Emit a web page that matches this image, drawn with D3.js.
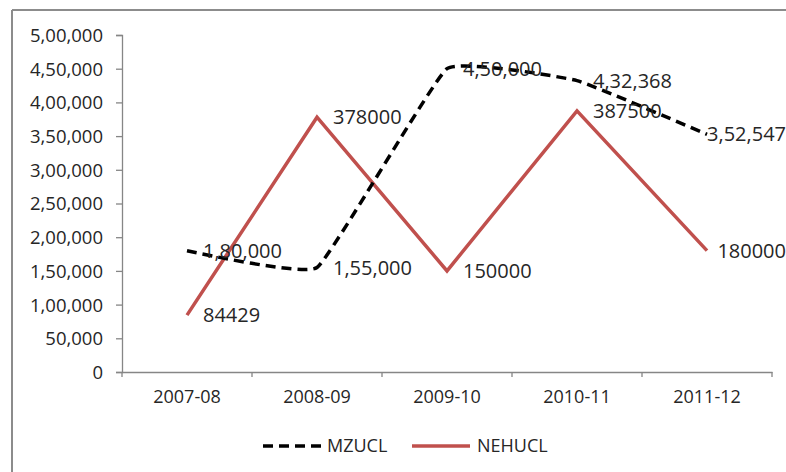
<!DOCTYPE html>
<html><head><meta charset="utf-8">
<script src="https://cdn.jsdelivr.net/npm/d3@7"></script>
<style>
html,body{margin:0;padding:0;background:#fff;}
svg text{font-family:"Open Sans","Liberation Sans",sans-serif;fill:#262626;}
</style></head>
<body><svg id="c" width="786" height="472"></svg>
<script>
const categories = ["2007-08","2008-09","2009-10","2010-11","2011-12"];
const mzucl = [180000,155000,450000,432368,352547];
const nehucl = [84429,378000,150000,387500,180000];
const yTicks = [0,50000,100000,150000,200000,250000,300000,350000,400000,450000,500000];
const seriesNames = ["MZUCL","NEHUCL"];

const W=786,H=472;
const svg=d3.select("#c");
const m={l:122,r:14,t:35,b:100};
const x=d3.scaleBand().domain(categories).range([m.l,W-m.r]);
const y=d3.scaleLinear().domain([0,500000]).range([H-m.b,m.t]);
const cx=c=>x(c)+x.bandwidth()/2;

const indian=v=>{ // Indian digit grouping
  const s=String(Math.round(v));
  if(s.length<=3) return s;
  const last=s.slice(-3); let rest=s.slice(0,-3);
  const parts=[]; while(rest.length>2){parts.unshift(rest.slice(-2)); rest=rest.slice(0,-2);}
  if(rest) parts.unshift(rest);
  return parts.join(",")+","+last;
};

// frame
svg.append("line").attr("x1",12).attr("x2",12).attr("y1",10).attr("y2",H).attr("stroke","#8c8c8c").attr("stroke-width",2);
svg.append("line").attr("x1",12).attr("x2",W).attr("y1",10).attr("y2",10).attr("stroke","#8c8c8c").attr("stroke-width",2);

// y axis
const ya=svg.append("g").attr("transform",`translate(${m.l},0)`)
  .call(d3.axisLeft(y).tickValues(yTicks).tickFormat(d=>indian(d)).tickSize(6).tickPadding(13));
ya.select(".domain").attr("stroke","#868686").attr("stroke-width",1.3);
ya.selectAll(".tick line").attr("stroke","#868686").attr("stroke-width",1.3);
ya.selectAll(".tick text").style("font-size","18.5px").attr("fill","#262626").attr("dy","0.35em");

// x axis
const xa=svg.append("g").attr("transform",`translate(0,${y(0)})`)
  .call(d3.axisBottom(x).tickSize(0).tickPadding(18));
xa.select(".domain").attr("stroke","#868686").attr("stroke-width",1.3);
xa.selectAll(".tick text").style("font-size","18px").attr("fill","#262626");
const bounds=categories.map(c=>x(c)).concat([x.range()[1]]);
svg.append("g").selectAll("line").data(bounds).join("line")
  .attr("x1",d=>d).attr("x2",d=>d).attr("y1",y(0)).attr("y2",y(0)+5)
  .attr("stroke","#868686").attr("stroke-width",1.3);

// lines
const redC="#c0504d";
const lineS=d3.line().x((d,i)=>cx(categories[i])).y(d=>y(d));
svg.append("path").datum(nehucl).attr("d",lineS).attr("fill","none")
  .attr("stroke",redC).attr("stroke-width",3.5).attr("stroke-linejoin","miter");
const lineM=d3.line().x((d,i)=>cx(categories[i])).y(d=>y(d)).curve(d3.curveCardinal.tension(0.7));
svg.append("path").datum(mzucl).attr("d",lineM).attr("fill","none")
  .attr("stroke","#000").attr("stroke-width",3.5).attr("stroke-dasharray","10,6");

// data labels
function labels(vals,fmt){
  const g=svg.append("g");
  vals.forEach((v,i)=>{
    const t=g.append("text").attr("x",cx(categories[i])+16).attr("y",y(v)).attr("dy","0.35em")
      .style("font-size","20px").text(fmt(v));
    const bb=t.node().getBBox();
    if(bb.x+bb.width>W) t.attr("x",W-bb.width);
  });
}
labels(mzucl,indian);
labels(nehucl,v=>String(v));

// legend
const lg=svg.append("g");
const ly=446;
lg.append("line").attr("x1",263).attr("x2",322).attr("y1",ly).attr("y2",ly)
  .attr("stroke","#000").attr("stroke-width",3.5).attr("stroke-dasharray","10,6");
lg.append("text").attr("x",327).attr("y",ly).attr("dy","0.35em").style("font-size","18px").text(seriesNames[0]);
lg.append("line").attr("x1",412).attr("x2",470).attr("y1",ly).attr("y2",ly)
  .attr("stroke",redC).attr("stroke-width",3.5);
lg.append("text").attr("x",477).attr("y",ly).attr("dy","0.35em").style("font-size","18px").text(seriesNames[1]);
</script></body></html>
